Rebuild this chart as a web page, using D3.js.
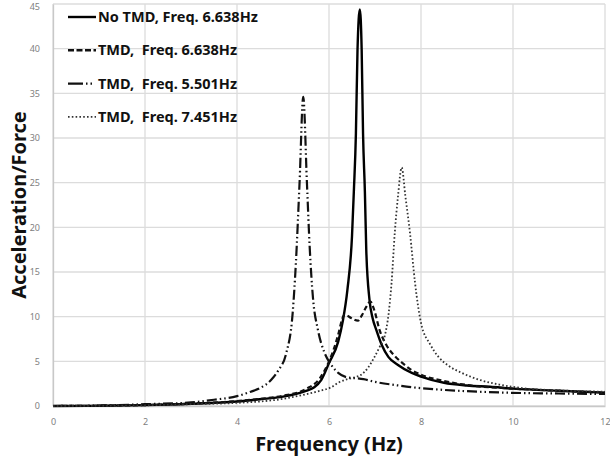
<!DOCTYPE html>
<html lang="en">
<head>
<meta charset="UTF-8">
<title>Acceleration/Force</title>
<style>
    body{ margin:0; background:#fff; }
    svg text{ font-family:"Noto Sans", "Open Sans", sans-serif; }
</style>
</head>
<body>
<script src="https://d3js.org/d3.v7.min.js"></script>
<script>

// frequency (Hz) / acceleration per force
var noTmdF = [0,1,2,3,4,4.5,5,5.5,5.68,5.83,6.0,6.2,6.3,6.4,6.5,6.54,6.585,6.62,6.67,6.71,6.74,6.78,6.81,6.88,6.95,7.03,7.15,7.29,7.5,7.8,8.0,8.5,9.0,9.5,10,11,12];
var noTmdV = [0,0.03,0.1,0.25,0.5,0.75,1.05,1.7,2.1,2.9,4.8,7.2,9.5,13,19,24,30.5,39.9,44.4,39.9,30.5,24,17.5,11.9,9.8,8.5,6.8,5.5,4.6,3.7,3.3,2.6,2.3,2.15,1.95,1.7,1.5];

var tmd1F = [0,1,2,3,4,4.5,5,5.5,5.8,6.0,6.1,6.2,6.28,6.33,6.4,6.48,6.63,6.72,6.81,6.9,6.98,7.1,7.25,7.43,7.6,7.8,8.0,8.5,9,10,11,12];
var tmd1V = [0,0.03,0.1,0.26,0.55,0.8,1.15,1.9,3.1,5.0,6.3,8.0,9.6,10.2,10.1,9.85,9.55,10.2,11.1,11.7,10.8,8.5,6.8,5.6,4.8,4.0,3.5,2.8,2.35,1.95,1.7,1.5];

var tmd2F = [0,1,2,3,3.5,4.0,4.3,4.5,4.74,4.9,5.07,5.21,5.28,5.36,5.44,5.52,5.58,5.65,5.76,5.9,6.05,6.2,6.4,6.6,6.75,7.0,7.5,7.8,8.5,9.25,10.2,11,12];
var tmd2V = [0,0.05,0.2,0.4,0.7,1.1,1.6,2.0,2.9,4.0,5.9,10.4,16,25,34.6,25,17.8,12.2,8.5,6.0,4.6,3.7,3.2,3.1,3.0,2.7,2.3,2.1,1.8,1.6,1.45,1.4,1.35];

var tmd3F = [0,1,2,3,4,5,5.4,5.8,6.05,6.2,6.4,6.55,6.7,6.85,6.99,7.1,7.21,7.3,7.36,7.43,7.5,7.58,7.66,7.76,7.87,8.0,8.2,8.38,8.6,8.89,9.29,9.7,10.2,11,12];
var tmd3V = [0,0.02,0.08,0.2,0.35,0.8,1.2,1.7,2.1,2.6,3.0,3.2,3.5,4.3,5.5,6.6,7.8,10.5,13.8,19.4,23.5,26.7,23.5,19.4,13.8,9.3,6.9,5.5,4.5,3.7,2.9,2.4,2.0,1.75,1.6];

var legendLabels = ["No TMD, Freq. 6.638Hz", "TMD,  Freq. 6.638Hz", "TMD,  Freq. 5.501Hz", "TMD,  Freq. 7.451Hz"];
var xTicks = [0,2,4,6,8,10,12];
var yTicks = [0,5,10,15,20,25,30,35,40,45];

var width = 610, height = 459;
var margin = {top:4, right:5, bottom:53, left:53};

var svg = d3.select("body").append("svg")
        .attr("width", width)
        .attr("height", height);

var x = d3.scaleLinear().domain([0,12]).range([margin.left, width - margin.right]);
var y = d3.scaleLinear().domain([0,45]).range([height - margin.bottom, margin.top]);

// grid
svg.append("g").selectAll("line").data(yTicks).enter().append("line")
        .attr("x1", x(0)).attr("x2", x(12))
        .attr("y1", function(d){return y(d)}).attr("y2", function(d){return y(d)})
        .style("stroke", "#dcdcdc").style("stroke-width", 1.3);
svg.append("g").selectAll("line").data(xTicks).enter().append("line")
        .attr("y1", y(0)).attr("y2", y(45))
        .attr("x1", function(d){return x(d)}).attr("x2", function(d){return x(d)})
        .style("stroke", "#dcdcdc").style("stroke-width", 1.3);

// axes
var xAxis = svg.append("g")
        .attr("transform", "translate(0," + y(0) + ")")
        .call(d3.axisBottom(x).tickValues(xTicks).tickSize(0).tickPadding(13));
var yAxis = svg.append("g")
        .attr("transform", "translate(" + x(0) + ",0)")
        .call(d3.axisLeft(y).tickValues(yTicks).tickSize(0).tickPadding(13));
[xAxis, yAxis].forEach(function(a){
    a.select(".domain").style("stroke", "#c8c8c8").style("stroke-width", 1.3);
    a.selectAll("text").style("font-size", "9px").style("fill", "#808080")
            .style("font-family", "\"Noto Sans\", sans-serif");
});
// top label would touch the edge
yAxis.selectAll(".tick").filter(function(d){return d == 45}).select("text").attr("dy", "0.6em");

// curves
var series = [
    {f:noTmdF, v:noTmdV, dash:null, w:2.4, col:"#000"},
    {f:tmd1F, v:tmd1V, dash:"5,3", w:2.2, col:"#111"},
    {f:tmd2F, v:tmd2V, dash:"10,3,1.5,3,1.5,3", w:2.2, col:"#111"},
    {f:tmd3F, v:tmd3V, dash:"1.6,2.2", w:1.8, col:"#333"}
];

var line = d3.line()
        .x(function(d){return x(d[0])})
        .y(function(d){return y(d[1])})
        .curve(d3.curveMonotoneX);

series.forEach(function(s){
    var pts = s.f.map(function(f,i){return [f, s.v[i]]});
    svg.append("path")
            .datum(pts)
            .attr("d", line)
            .style("fill", "none")
            .style("stroke", s.col)
            .style("stroke-width", s.w)
            .style("stroke-dasharray", s.dash);
});

// legend
var lg = svg.append("g").attr("transform", "translate(68,17)");
legendLabels.forEach(function(t,i){
    var row = lg.append("g").attr("transform", "translate(0," + (i*33.3) + ")");
    row.append("line")
            .attr("x1", 0).attr("x2", 28).attr("y1", 0).attr("y2", 0)
            .style("stroke", series[i].col)
            .style("stroke-width", i == 3 ? 1.8 : 2.4)
            .style("stroke-dasharray", i == 0 ? null : (i == 1 ? "6,2.5" : (i == 2 ? "15,3,1.5,3,1.5" : "1.6,2.2")));
    row.append("text")
            .attr("x", 30).attr("y", 5)
            .attr("xml:space", "preserve")
            .style("white-space", "pre")
            .style("font-size", "14.5px")
            .style("font-weight", "bold")
            .style("fill", "#111")
            .text(t);
});

// titles
svg.append("text")
        .attr("transform", "translate(26," + ((y(0)+y(45))/2) + ") rotate(-90)")
        .attr("text-anchor", "middle")
        .style("font-size", "20px")
        .style("font-weight", "bold")
        .style("fill", "#111")
        .text("Acceleration/Force");

svg.append("text")
        .attr("x", 329).attr("y", 451)
        .attr("text-anchor", "middle")
        .style("font-size", "20px")
        .style("font-weight", "bold")
        .style("fill", "#111")
        .text("Frequency (Hz)");

</script>
</body>
</html>
